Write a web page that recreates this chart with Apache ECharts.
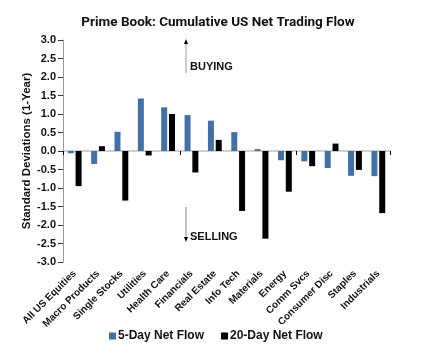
<!DOCTYPE html>
<html><head><meta charset="utf-8">
<script src="https://cdn.jsdelivr.net/npm/echarts@6/dist/echarts.min.js"></script>
<style>html,body{margin:0;padding:0;background:#fff}#c{width:436px;height:355px}</style>
</head><body><div id="c"></div>
<script>
const categories = ["All US Equities","Macro Products","Single Stocks","Utilities","Health Care","Financials","Real Estate","Info Tech","Materials","Energy","Comm Svcs","Consumer Disc","Staples","Industrials"];
const fiveDay = [-0.06,-0.35,0.52,1.42,1.18,0.97,0.82,0.51,0.05,-0.25,-0.28,-0.46,-0.67,-0.68];
const twentyDay = [-0.95,0.13,-1.34,-0.12,1.0,-0.58,0.30,-1.62,-2.37,-1.10,-0.41,0.20,-0.51,-1.68];
const yTicks = ["-3.0","-2.5","-2.0","-1.5","-1.0","-0.5","0.0","0.5","1.0","1.5","2.0","2.5","3.0"];

const F = "'Liberation Sans', Arial, sans-serif";
const chart = echarts.init(document.getElementById('c'));
chart.setOption({
  animation: false,
  title: {text: "Prime Book: Cumulative US Net Trading Flow", left: 'center', top: 11,
    textStyle: {fontFamily: "Roboto, sans-serif", fontWeight: 'bold', fontSize: 13.5, color: '#111'}},
  grid: {left: 63, right: 46, top: 40, bottom: 93},
  legend: {bottom: 8, left: 104, itemWidth: 7, itemHeight: 7, itemGap: 17, icon: 'rect',
    textStyle: {fontFamily: F, fontWeight: 'bold', fontSize: 12, color: '#111', padding: [0,0,0,-3]},
    data: ["5-Day Net Flow","20-Day Net Flow"]},
  xAxis: [{
    type: 'category', data: categories,
    axisLine: {onZero: true, lineStyle: {color: '#cfcfcf', width: 2}},
    axisTick: {show: true, length: 4, lineStyle: {color: '#000'}},
    axisLabel: {show: false}
  },{
    type: 'category', data: categories, position: 'bottom',
    axisLine: {show: false, onZero: false}, axisTick: {show: false},
    axisLabel: {rotate: 45, interval: 0, fontFamily: F, fontWeight: 'bold', fontSize: 10, color: '#111', margin: 10}
  }],
  yAxis: {
    type: 'value', min: -3, max: 3, interval: 0.5,
    name: "Standard Deviations (1-Year)", nameLocation: 'middle', nameGap: 30, nameMoveOverlap: false,
    nameTextStyle: {fontFamily: F, fontSize: 11.5, fontWeight: 'bold', color: '#111'},
    axisLine: {show: true, lineStyle: {color: '#999'}},
    axisTick: {show: true, length: 5, lineStyle: {color: '#333'}},
    splitLine: {show: false},
    axisLabel: {fontFamily: F, fontWeight: 'bold', fontSize: 11, color: '#111', margin: 7,
      formatter: v => yTicks[Math.round((v + 3) / 0.5)]}
  },
  series: [
    {name: "5-Day Net Flow", type: 'bar', data: fiveDay, barWidth: 6, barGap: '30%',
     itemStyle: {color: '#4470A8'}},
    {name: "20-Day Net Flow", type: 'bar', data: twentyDay, barWidth: 6,
     itemStyle: {color: '#000'}}
  ],
  graphic: [
    {type: 'line', shape: {x1: 186, y1: 43, x2: 186, y2: 73}, style: {stroke: '#bbb', lineWidth: 1.5}},
    {type: 'polygon', shape: {points: [[184,44],[188,44],[186,39]]}, style: {fill: '#000'}},
    {type: 'text', left: 190, top: 61, style: {text: 'BUYING', fontFamily: F, fontSize: 11, fontWeight: 'bold', fill: '#111'}},
    {type: 'line', shape: {x1: 186, y1: 207, x2: 186, y2: 238}, style: {stroke: '#888', lineWidth: 1}},
    {type: 'polygon', shape: {points: [[184,237],[188,237],[186,242]]}, style: {fill: '#000'}},
    {type: 'text', left: 190, top: 231, style: {text: 'SELLING', fontFamily: F, fontSize: 11, fontWeight: 'bold', fill: '#111'}}
  ]
});
</script></body></html>
